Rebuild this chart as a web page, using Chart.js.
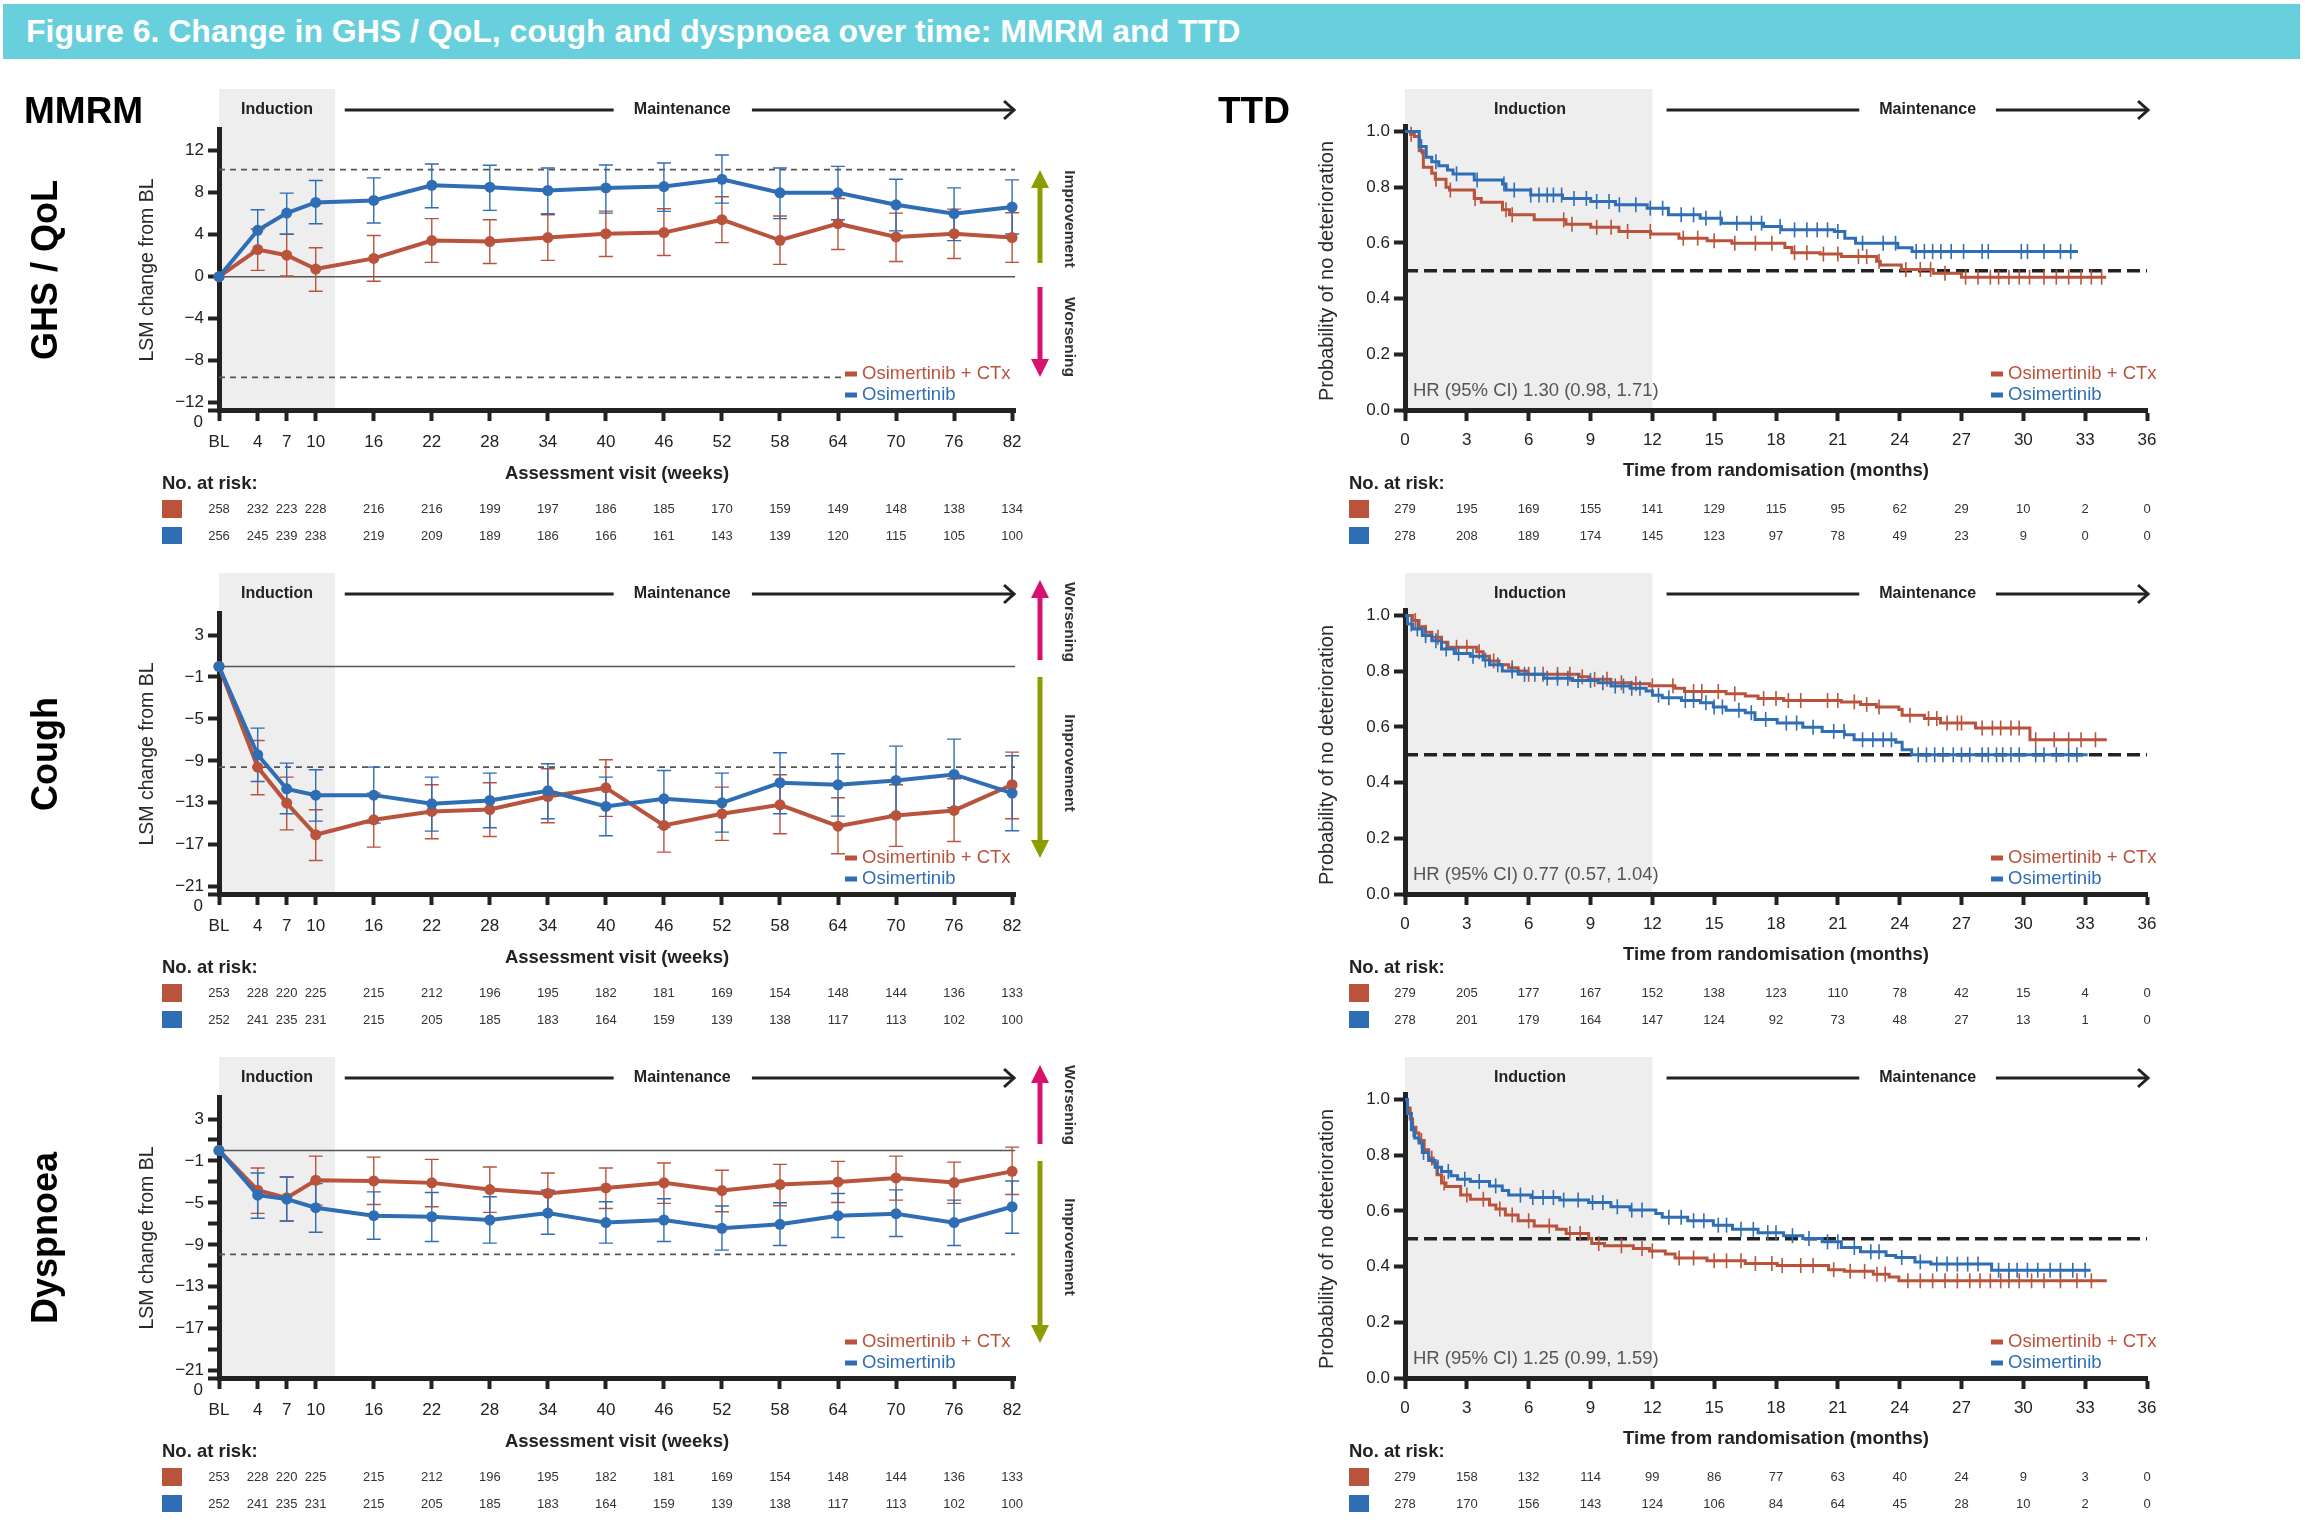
<!DOCTYPE html>
<html>
<head>
<meta charset="utf-8">
<script src="https://cdn.jsdelivr.net/npm/chart.js@4.4.0/dist/chart.umd.min.js"></script>
<style>
body{margin:0;background:#fff;width:2305px;height:1525px;position:relative;overflow:hidden;font-family:"Liberation Sans",Arial,sans-serif}
#hdr{position:absolute;left:3px;top:4px;width:2297px;height:55px;background:#68d0dd;color:#fff;font-weight:bold;font-size:32px;line-height:55px;padding-left:23px;box-sizing:border-box}
canvas{position:absolute}
</style>
</head>
<body>
<div id="hdr">Figure 6. Change in GHS / QoL, cough and dyspnoea over time: MMRM and TTD</div>
<canvas id="m0" width="1120" height="484" style="left:0;top:60px"></canvas>
<canvas id="m1" width="1120" height="484" style="left:0;top:544px"></canvas>
<canvas id="m2" width="1120" height="484" style="left:0;top:1028px"></canvas>
<canvas id="t0" width="1185" height="484" style="left:1120px;top:60px"></canvas>
<canvas id="t1" width="1185" height="484" style="left:1120px;top:544px"></canvas>
<canvas id="t2" width="1185" height="484" style="left:1120px;top:1028px"></canvas>
<script>
const RED = '#b9533b', BLUE = '#2f6db4', INK = '#222';
const OLIVE = '#8d9c00', PINK = '#d6116e';
const FONT = '"Liberation Sans", Arial, sans-serif';
Chart.defaults.font.family = FONT;

// ---- MMRM data (weeks) ----
const weeks = [0,4,7,10,16,22,28,34,40,46,52,58,64,70,76,82];

const ghsOsi   = [0,4.42,6.06,7.07,7.26,8.71,8.53,8.21,8.46,8.59,9.28,7.99,7.99,6.85,6.00,6.63];
const ghsOsiHi = [null,6.38,7.96,9.16,9.41,10.74,10.61,10.36,10.64,10.83,11.59,10.36,10.51,9.28,8.46,9.22];
const ghsOsiLo = [null,2.46,4.04,5.05,5.12,6.57,6.32,6.00,6.06,6.22,7.01,5.53,5.43,4.36,3.44,4.07];
const ghsCtx   = [0,2.59,2.05,0.73,1.74,3.44,3.35,3.73,4.10,4.20,5.43,3.47,5.05,3.79,4.10,3.73];
const ghsCtxHi = [null,4.55,4.04,2.75,3.92,5.53,5.43,5.90,6.25,6.47,7.61,5.78,7.45,6.06,6.44,6.09];
const ghsCtxLo = [null,0.60,0.06,-1.39,-0.44,1.36,1.26,1.55,1.93,2.02,3.25,1.17,2.59,1.45,1.74,1.36];

const coughOsi   = [0,-8.42,-11.67,-12.27,-12.27,-13.10,-12.78,-11.86,-13.35,-12.62,-13.00,-11.09,-11.28,-10.87,-10.30,-12.08];
const coughOsiHi = [null,-5.88,-9.22,-9.85,-9.60,-10.55,-10.17,-9.28,-10.55,-9.92,-10.17,-8.23,-8.33,-7.60,-6.93,-8.52];
const coughOsiLo = [null,-10.97,-14.05,-14.75,-14.94,-15.70,-15.38,-14.53,-16.15,-15.32,-15.80,-14.05,-14.27,-14.11,-13.48,-15.67];
const coughCtx   = [0,-9.60,-13.03,-16.05,-14.62,-13.83,-13.64,-12.40,-11.57,-15.16,-14.05,-13.19,-15.23,-14.21,-13.73,-11.28];
const coughCtxHi = [null,-7.06,-10.55,-13.67,-12.08,-11.28,-11.09,-9.76,-8.90,-12.62,-11.51,-10.33,-12.52,-11.28,-10.71,-8.17];
const coughCtxLo = [null,-12.24,-15.58,-18.50,-17.23,-16.43,-16.21,-14.91,-14.30,-17.71,-16.59,-15.96,-17.86,-17.16,-16.69,-14.53];

const dyspOsi   = [0,-4.26,-4.64,-5.46,-6.22,-6.32,-6.63,-5.97,-6.88,-6.63,-7.42,-7.04,-6.22,-6.03,-6.88,-5.37];
const dyspOsiHi = [null,-2.15,-2.53,-3.16,-3.95,-4.01,-4.42,-3.79,-4.89,-4.61,-5.30,-4.99,-4.10,-3.76,-4.74,-2.91];
const dyspOsiLo = [null,-6.47,-6.73,-7.80,-8.46,-8.68,-8.84,-7.99,-8.84,-8.68,-9.50,-9.06,-8.30,-8.21,-9.06,-7.89];
const dyspCtx   = [0,-3.79,-4.52,-2.84,-2.90,-3.09,-3.73,-4.10,-3.57,-3.09,-3.82,-3.25,-3.00,-2.62,-3.06,-1.99];
const dyspCtxHi = [null,-1.67,-2.53,-0.54,-0.63,-0.85,-1.58,-2.15,-1.67,-1.20,-1.89,-1.33,-1.04,-0.54,-1.11,0.32];
const dyspCtxLo = [null,-6.00,-6.73,-5.21,-5.15,-5.37,-5.90,-6.16,-5.53,-5.05,-5.84,-5.27,-4.96,-4.74,-5.05,-4.20];

const ghsYTicks    = [12,8,4,0,-4,-8,-12,-12.7];
const ghsYLabels   = ['12','8','4','0','\u22124','\u22128','\u221212',''];
const coughYTicks  = [3,-1,-5,-9,-13,-17,-21,-21.7];
const coughYLabels = ['3','\u22121','\u22125','\u22129','\u221213','\u221217','\u221221',''];
const dyspYTicks   = [3,1,-1,-3,-5,-7,-9,-11,-13,-15,-17,-19,-21,-21.7];
const dyspYLabels  = ['3','','\u22121','','\u22125','','\u22129','','\u221213','','\u221217','','\u221221',''];

const ghsRiskCtx   = [258,232,223,228,216,216,199,197,186,185,170,159,149,148,138,134];
const ghsRiskOsi   = [256,245,239,238,219,209,189,186,166,161,143,139,120,115,105,100];
const coughRiskCtx = [253,228,220,225,215,212,196,195,182,181,169,154,148,144,136,133];
const coughRiskOsi = [252,241,235,231,215,205,185,183,164,159,139,138,117,113,102,100];
const dyspRiskCtx  = [253,228,220,225,215,212,196,195,182,181,169,154,148,144,136,133];
const dyspRiskOsi  = [252,241,235,231,215,205,185,183,164,159,139,138,117,113,102,100];

// ---- TTD data (months) ----
const months = [0,3,6,9,12,15,18,21,24,27,30,33,36];
const ttdYTicks = [0,0.2,0.4,0.6,0.8,1.0];

const ghsKmCtxT = [0,0.27,0.45,0.69,0.89,1.30,1.47,1.99,2.16,3.36,3.70,4.73,5.07,6.27,7.81,9.01,10.38,11.92,13.29,14.66,15.86,18.43,18.77,20.14,21.17,22.88,23.06,24.08,25.63,27.00,34.02];
const ghsKmCtxS = [1,0.99,0.982,0.931,0.872,0.850,0.829,0.800,0.790,0.760,0.746,0.719,0.701,0.683,0.667,0.656,0.641,0.632,0.617,0.608,0.599,0.584,0.565,0.560,0.551,0.534,0.521,0.505,0.491,0.477,0.477];
const ghsKmCtxC = [0.3,1.5,2.2,3.4,4.9,5.2,7.7,8.1,9.3,10.0,10.8,11.9,13.5,14.2,15.0,16.0,17.0,17.8,18.9,19.5,20.3,21.0,22.0,22.4,23.0,24.3,25.0,25.5,26.2,27.2,27.8,28.4,28.8,29.3,29.8,30.3,31.0,31.6,32.2,32.8,33.3,33.8];
const ghsKmOsiT = [0,0.69,1.03,1.30,1.64,2.06,2.33,3.36,4.73,4.90,6.10,7.64,9.01,10.21,11.75,12.78,14.32,15.35,17.40,18.26,20.83,21.34,21.86,23.91,24.60,32.65];
const ghsKmOsiS = [1,0.946,0.908,0.892,0.877,0.862,0.848,0.826,0.812,0.790,0.772,0.760,0.749,0.737,0.725,0.701,0.689,0.671,0.659,0.647,0.641,0.617,0.599,0.583,0.569,0.569];
const ghsKmOsiC = [0.8,1.5,2.5,3.5,4.8,5.3,6.1,6.5,6.9,7.2,7.6,8.2,8.8,9.3,9.9,10.4,11.2,11.9,12.5,13.4,14.0,14.6,15.3,16.1,16.8,17.3,18.2,18.9,19.5,20.0,20.5,21.0,22.2,23.2,23.8,24.8,25.2,25.6,26.0,26.5,27.1,28.0,28.3,29.9,30.2,31.0,31.8,32.3];

const coughKmCtxT = [0,0.37,0.68,0.99,1.30,1.77,2.08,3.48,3.79,4.10,4.56,5.03,5.49,5.96,8.44,8.91,9.99,10.92,11.86,13.10,13.56,15.58,16.51,17.13,18.37,21.17,22.10,22.87,23.96,24.12,25.20,25.98,27.68,30.32,34.05];
const coughKmCtxS = [1,0.982,0.960,0.940,0.922,0.904,0.886,0.870,0.854,0.837,0.823,0.813,0.801,0.789,0.780,0.771,0.759,0.755,0.748,0.739,0.727,0.719,0.711,0.702,0.695,0.690,0.681,0.672,0.663,0.642,0.630,0.614,0.596,0.554,0.554];
const coughKmCtxC = [0.5,1.0,1.6,2.5,3.0,3.6,4.3,5.2,6.0,6.7,7.4,8.0,8.6,9.2,9.8,10.5,11.2,12.0,13.0,14.0,14.4,15.2,16.0,17.4,18.0,18.6,19.2,20.5,21.0,21.8,22.4,23.0,24.5,25.4,25.8,26.3,26.8,27.0,28.0,28.5,28.9,29.4,29.8,30.6,31.5,32.2,32.8,33.5];
const coughKmOsiT = [0,0.12,0.37,0.84,1.30,1.77,2.39,3.17,3.79,4.10,4.72,5.49,6.73,8.13,9.37,9.99,10.92,11.70,12.01,12.48,13.41,14.34,14.96,15.58,16.51,16.98,18.06,19.30,20.24,21.32,21.79,23.81,24.12,24.58,33.12];
const coughKmOsiS = [1,0.970,0.952,0.928,0.910,0.880,0.864,0.854,0.840,0.823,0.801,0.789,0.775,0.767,0.759,0.747,0.739,0.729,0.714,0.705,0.695,0.687,0.672,0.660,0.651,0.627,0.614,0.599,0.584,0.572,0.554,0.545,0.518,0.500,0.500];
const coughKmOsiC = [0.3,0.6,1.0,1.5,2.0,2.6,3.3,3.9,4.5,5.2,5.8,6.3,6.9,7.4,7.9,8.4,9.0,9.6,10.2,10.6,11.0,11.4,12.3,12.8,13.6,14.0,14.6,15.0,15.4,16.2,16.8,17.5,18.5,19.0,19.8,20.8,21.3,22.2,22.7,23.2,23.6,24.9,25.3,25.7,26.1,26.6,27.0,27.4,28.0,28.3,28.7,29.0,29.4,29.8,30.6,31.0,31.6,32.2,32.6];

const dyspKmCtxT = [0,0.12,0.25,0.37,0.53,0.68,0.93,1.15,1.37,1.55,1.77,1.99,2.70,3.17,4.10,4.41,4.87,5.49,6.27,7.36,7.82,8.91,9.06,9.68,11.08,11.86,12.63,13.10,14.65,16.51,18.06,20.55,21.32,22.72,23.49,23.96,34.05];
const dyspKmCtxS = [1,0.970,0.930,0.901,0.880,0.853,0.820,0.790,0.772,0.730,0.700,0.688,0.657,0.642,0.621,0.607,0.585,0.565,0.546,0.534,0.519,0.501,0.483,0.475,0.465,0.456,0.445,0.431,0.421,0.411,0.404,0.389,0.383,0.373,0.363,0.349,0.349];
const dyspKmCtxC = [0.3,0.8,1.3,1.9,3.0,3.8,4.6,5.2,6.0,7.0,8.0,8.5,9.4,10.5,11.5,12.0,13.3,14.0,15.0,15.6,16.3,17.0,17.8,18.3,19.2,19.8,20.8,21.6,22.3,22.9,23.3,24.4,25.0,25.6,26.2,26.8,27.4,27.9,28.4,28.9,29.3,29.8,30.4,31.0,31.8,32.6,33.3];
const dyspKmOsiT = [0,0.12,0.31,0.47,0.68,0.84,1.15,1.46,1.77,2.23,2.55,3.17,4.10,4.72,5.03,6.11,7.51,8.91,9.99,10.92,12.17,12.48,13.72,14.96,15.89,17.13,18.37,19.30,20.24,21.17,22.10,23.34,23.81,24.74,25.51,28.46,33.27];
const dyspKmOsiS = [1,0.950,0.892,0.862,0.844,0.810,0.781,0.757,0.742,0.726,0.714,0.706,0.690,0.673,0.657,0.648,0.639,0.630,0.615,0.603,0.591,0.577,0.565,0.549,0.534,0.522,0.511,0.501,0.489,0.469,0.453,0.440,0.433,0.417,0.409,0.387,0.387];
const dyspKmOsiC = [0.4,0.9,1.6,2.1,2.9,3.6,4.4,5.6,6.2,6.7,7.2,7.7,8.4,9.1,9.6,10.3,11.0,11.5,12.8,13.4,14.0,14.5,15.2,15.6,16.3,16.9,17.6,18.0,18.8,19.6,20.5,21.0,21.8,22.6,23.0,24.1,25.0,25.8,26.3,26.8,27.3,27.8,28.8,29.3,29.7,30.2,30.7,31.3,31.8,32.4,33.0];

const ghsTtdRiskCtx   = [279,195,169,155,141,129,115,95,62,29,10,2,0];
const ghsTtdRiskOsi   = [278,208,189,174,145,123,97,78,49,23,9,0,0];
const coughTtdRiskCtx = [279,205,177,167,152,138,123,110,78,42,15,4,0];
const coughTtdRiskOsi = [278,201,179,164,147,124,92,73,48,27,13,1,0];
const dyspTtdRiskCtx  = [279,158,132,114,99,86,77,63,40,24,9,3,0];
const dyspTtdRiskOsi  = [278,170,156,143,124,106,84,64,45,28,10,2,0];

// ---- helpers ----
function txt(c, s, x, y, font, color, align, rot) {
  c.save();
  c.font = font; c.fillStyle = color || INK;
  c.textAlign = align || 'left'; c.textBaseline = 'middle';
  c.translate(x, y);
  if (rot) c.rotate(rot);
  c.fillText(s, 0, 0);
  c.restore();
}
function bigArrow(c, x, yTail, yTip, color) {
  const dir = yTip < yTail ? -1 : 1, head = 18;
  c.save();
  c.strokeStyle = color; c.fillStyle = color; c.lineWidth = 5;
  c.beginPath(); c.moveTo(x, yTail); c.lineTo(x, yTip - dir * head); c.stroke();
  c.beginPath(); c.moveTo(x - 9, yTip - dir * head); c.lineTo(x + 9, yTip - dir * head); c.lineTo(x, yTip); c.closePath(); c.fill();
  c.restore();
}
function phaseHeader(c, xs, shadeTo, lines, labels) {
  const y = 50;
  c.save();
  c.strokeStyle = INK; c.lineWidth = 3;
  lines.forEach((l, i) => {
    const x0 = xs.getPixelForValue(l[0]), x1 = xs.getPixelForValue(l[1]);
    c.beginPath(); c.moveTo(x0, y); c.lineTo(x1, y); c.stroke();
    if (i === lines.length - 1) {
      c.beginPath(); c.moveTo(x1 - 10, y - 9); c.lineTo(x1, y); c.lineTo(x1 - 10, y + 9); c.stroke();
    }
  });
  c.restore();
  txt(c, 'Induction', xs.getPixelForValue(labels[0]), y, 'bold 16px ' + FONT, INK, 'center');
  txt(c, 'Maintenance', xs.getPixelForValue(labels[1]), y, 'bold 16px ' + FONT, INK, 'center');
}
function legendBlock(c, x, y) {
  c.fillStyle = RED; c.fillRect(x, y - 2.5, 12, 5);
  txt(c, 'Osimertinib + CTx', x + 17, y, '18.5px ' + FONT, RED);
  c.fillStyle = BLUE; c.fillRect(x, y + 21 - 2.5, 12, 5);
  txt(c, 'Osimertinib', x + 17, y + 21, '18.5px ' + FONT, BLUE);
}
function riskTable(c, xs, x0, vals, riskCtx, riskOsi, title, titleY) {
  txt(c, title, xs.chart.chartArea.left + (xs.chart.chartArea.right - xs.chart.chartArea.left) / 2, titleY, 'bold 18.5px ' + FONT, INK, 'center');
  txt(c, 'No. at risk:', x0, 424, 'bold 18.5px ' + FONT, INK);
  c.fillStyle = RED; c.fillRect(x0, 440, 20, 18);
  c.fillStyle = BLUE; c.fillRect(x0, 467, 20, 18);
  vals.forEach((v, i) => {
    const x = xs.getPixelForValue(v);
    txt(c, String(riskCtx[i]), x, 449, '13px ' + FONT, '#333', 'center');
    txt(c, String(riskOsi[i]), x, 476, '13px ' + FONT, '#333', 'center');
  });
}
function stepS(T, S, t) {
  let s = S[0];
  for (let i = 0; i < T.length; i++) if (T[i] <= t) s = S[i];
  return s;
}
const axisGrid = {display: true, drawOnChartArea: false, drawTicks: true, tickLength: 11, tickWidth: 4, tickColor: INK};
const axisBorder = {display: true, width: 5, color: INK};

// ---- MMRM panel ----
function mmrmPanel(id, p) {
  const pts = arr => weeks.map((w, i) => ({x: w, y: arr[i]}));
  const plug = {
    id: 'mmrm' + id,
    beforeDraw(ch) {
      const c = ch.ctx, xs = ch.scales.x, a = ch.chartArea;
      c.save(); c.fillStyle = '#eeeeee';
      c.fillRect(xs.getPixelForValue(0), 29, xs.getPixelForValue(12) - xs.getPixelForValue(0), a.bottom - 29);
      c.restore();
    },
    beforeDatasetsDraw(ch) {
      const c = ch.ctx, xs = ch.scales.x, ys = ch.scales.y;
      c.save();
      // baseline at zero
      c.strokeStyle = '#555'; c.lineWidth = 1.5;
      c.beginPath(); c.moveTo(xs.getPixelForValue(0), ys.getPixelForValue(0)); c.lineTo(xs.getPixelForValue(82.3), ys.getPixelForValue(0)); c.stroke();
      // threshold lines
      c.setLineDash([6, 5]); c.strokeStyle = '#555'; c.lineWidth = 1.8;
      p.refs.forEach(r => {
        c.beginPath(); c.moveTo(xs.getPixelForValue(r[1]), ys.getPixelForValue(r[0])); c.lineTo(xs.getPixelForValue(r[2]), ys.getPixelForValue(r[0])); c.stroke();
      });
      c.setLineDash([]);
      // error bars
      [[p.ctxLo, p.ctxHi, RED], [p.osiLo, p.osiHi, BLUE]].forEach(b => {
        c.strokeStyle = b[2]; c.lineWidth = 1.4;
        weeks.forEach((w, i) => {
          if (b[0][i] === null) return;
          const x = xs.getPixelForValue(w), y0 = ys.getPixelForValue(b[0][i]), y1 = ys.getPixelForValue(b[1][i]);
          c.beginPath();
          c.moveTo(x, y0); c.lineTo(x, y1);
          c.moveTo(x - 7, y0); c.lineTo(x + 7, y0);
          c.moveTo(x - 7, y1); c.lineTo(x + 7, y1);
          c.stroke();
        });
      });
      c.restore();
    },
    afterDraw(ch) {
      const c = ch.ctx, xs = ch.scales.x, a = ch.chartArea;
      if (p.head) txt(c, 'MMRM', 24, 53, 'bold 37px ' + FONT, '#000');
      txt(c, p.name, 47, 210, 'bold 36px ' + FONT, '#000', 'center', -Math.PI / 2);
      txt(c, 'LSM change from BL', 148, 210, '19.5px ' + FONT, '#2a2a2a', 'center', -Math.PI / 2);
      txt(c, '0', a.left - 16, a.bottom + 12, '17px ' + FONT, INK, 'right');
      phaseHeader(c, xs, 12, [[13.0, 40.8], [55.1, 82.2]], [6, 47.9]);
      legendBlock(c, 845, 314);
      p.arrows.forEach(ar => {
        bigArrow(c, 1040, ar.tail, ar.tip, ar.color);
        txt(c, ar.label, 1069, ar.mid, 'bold 15.5px ' + FONT, '#333', 'center', Math.PI / 2);
      });
      riskTable(c, xs, 162, weeks, p.riskCtx, p.riskOsi, 'Assessment visit (weeks)', 414);
    }
  };
  new Chart(document.getElementById(id), {
    type: 'line',
    data: {
      datasets: [
        {label: 'Osimertinib', data: pts(p.osi), borderColor: BLUE, backgroundColor: BLUE, borderWidth: 4, pointRadius: 5.5, pointBorderWidth: 0, clip: false},
        {label: 'Osimertinib + CTx', data: pts(p.ctx), borderColor: RED, backgroundColor: RED, borderWidth: 4, pointRadius: 5.5, pointBorderWidth: 0, clip: false}
      ]
    },
    options: {
      responsive: false, animation: false,
      layout: {padding: {top: 69, right: 105, left: 0, bottom: 0}},
      plugins: {legend: {display: false}, tooltip: {enabled: false}},
      scales: {
        x: {
          type: 'linear', min: 0, max: 82.3,
          afterBuildTicks: s => { s.ticks = weeks.map(v => ({value: v})); },
          afterFit: s => { s.height = 134; },
          ticks: {color: INK, font: {size: 17}, padding: 11, autoSkip: false, maxRotation: 0, callback: v => v === 0 ? 'BL' : String(v)},
          grid: axisGrid, border: axisBorder
        },
        y: {
          min: p.yMin, max: p.yMax,
          afterBuildTicks: s => { s.ticks = p.yTicks.map(v => ({value: v})); },
          afterFit: s => { s.width = 219; },
          ticks: {color: INK, font: {size: 17}, padding: 4, autoSkip: false, callback: (v, i) => p.yLabels[i]},
          grid: axisGrid, border: axisBorder
        }
      }
    },
    plugins: [plug]
  });
}

// ---- TTD panel ----
function ttdPanel(id, p) {
  const km = (T, S) => T.map((t, i) => ({x: t, y: S[i]}));
  const cens = (T, S, C) => C.map(t => ({x: t, y: stepS(T, S, t)}));
  const plug = {
    id: 'ttd' + id,
    beforeDraw(ch) {
      const c = ch.ctx, xs = ch.scales.x, a = ch.chartArea;
      c.save(); c.fillStyle = '#eeeeee';
      c.fillRect(xs.getPixelForValue(0), 29, xs.getPixelForValue(12) - xs.getPixelForValue(0), a.bottom - 29);
      c.restore();
    },
    beforeDatasetsDraw(ch) {
      const c = ch.ctx, xs = ch.scales.x, ys = ch.scales.y;
      c.save();
      c.setLineDash([13, 6]); c.strokeStyle = INK; c.lineWidth = 3.5;
      c.beginPath(); c.moveTo(xs.getPixelForValue(0), ys.getPixelForValue(0.5)); c.lineTo(xs.getPixelForValue(36), ys.getPixelForValue(0.5)); c.stroke();
      c.restore();
    },
    afterDraw(ch) {
      const c = ch.ctx, xs = ch.scales.x, a = ch.chartArea;
      if (p.head) txt(c, 'TTD', 98, 53, 'bold 37px ' + FONT, '#000');
      txt(c, 'Probability of no deterioration', 207, 211, '20px ' + FONT, '#2a2a2a', 'center', -Math.PI / 2);
      phaseHeader(c, xs, 12, [[12.69, 22.04], [28.67, 36.05]], [6.07, 25.36]);
      txt(c, p.hr, a.left + 8, 331, '18.5px ' + FONT, '#555');
      legendBlock(c, 871, 314);
      riskTable(c, xs, 229, months, p.riskCtx, p.riskOsi, 'Time from randomisation (months)', 411);
    }
  };
  new Chart(document.getElementById(id), {
    type: 'line',
    data: {
      datasets: [
        {data: km(p.osiT, p.osiS), stepped: true, borderColor: BLUE, borderWidth: 3, pointRadius: 0, clip: false},
        {data: cens(p.osiT, p.osiS, p.osiC), showLine: false, pointStyle: 'line', pointRotation: 90, pointRadius: 7.5, pointBorderWidth: 1.6, pointBorderColor: BLUE, borderColor: BLUE, clip: false},
        {data: km(p.ctxT, p.ctxS), stepped: true, borderColor: RED, borderWidth: 3, pointRadius: 0, clip: false},
        {data: cens(p.ctxT, p.ctxS, p.ctxC), showLine: false, pointStyle: 'line', pointRotation: 90, pointRadius: 7.5, pointBorderWidth: 1.6, pointBorderColor: RED, borderColor: RED, clip: false}
      ]
    },
    options: {
      responsive: false, animation: false,
      layout: {padding: {top: 66, right: 158, left: 0, bottom: 0}},
      plugins: {legend: {display: false}, tooltip: {enabled: false}},
      scales: {
        x: {
          type: 'linear', min: 0, max: 36,
          afterBuildTicks: s => { s.ticks = months.map(v => ({value: v})); },
          afterFit: s => { s.height = 134; },
          ticks: {color: INK, font: {size: 17}, padding: 9, autoSkip: false, maxRotation: 0, callback: v => String(v)},
          grid: axisGrid, border: axisBorder
        },
        y: {
          min: 0, max: 1.02,
          afterBuildTicks: s => { s.ticks = ttdYTicks.map(v => ({value: v})); },
          afterFit: s => { s.width = 285; },
          ticks: {color: INK, font: {size: 17}, padding: 4, autoSkip: false, callback: v => v.toFixed(1)},
          grid: axisGrid, border: axisBorder
        }
      }
    },
    plugins: [plug]
  });
}

mmrmPanel('m0', {head: true, name: 'GHS / QoL', osi: ghsOsi, osiLo: ghsOsiLo, osiHi: ghsOsiHi, ctx: ghsCtx, ctxLo: ghsCtxLo, ctxHi: ghsCtxHi,
  yMin: -12.7, yMax: 14.07, yTicks: ghsYTicks, yLabels: ghsYLabels, refs: [[10.2, 0, 82.3], [-9.6, 0, 64.7]],
  arrows: [{tail: 203, tip: 110, color: OLIVE, label: 'Improvement', mid: 159}, {tail: 227, tip: 317, color: PINK, label: 'Worsening', mid: 277}],
  riskCtx: ghsRiskCtx, riskOsi: ghsRiskOsi});
mmrmPanel('m1', {head: false, name: 'Cough', osi: coughOsi, osiLo: coughOsiLo, osiHi: coughOsiHi, ctx: coughCtx, ctxLo: coughCtxLo, ctxHi: coughCtxHi,
  yMin: -21.7, yMax: 5.1, yTicks: coughYTicks, yLabels: coughYLabels, refs: [[-9.6, 0, 82.3]],
  arrows: [{tail: 116, tip: 36, color: PINK, label: 'Worsening', mid: 78}, {tail: 133, tip: 314, color: OLIVE, label: 'Improvement', mid: 219}],
  riskCtx: coughRiskCtx, riskOsi: coughRiskOsi});
mmrmPanel('m2', {head: false, name: 'Dyspnoea', osi: dyspOsi, osiLo: dyspOsiLo, osiHi: dyspOsiHi, ctx: dyspCtx, ctxLo: dyspCtxLo, ctxHi: dyspCtxHi,
  yMin: -21.7, yMax: 5.1, yTicks: dyspYTicks, yLabels: dyspYLabels, refs: [[-9.9, 0, 82.3]],
  arrows: [{tail: 116, tip: 37, color: PINK, label: 'Worsening', mid: 77}, {tail: 133, tip: 315, color: OLIVE, label: 'Improvement', mid: 219}],
  riskCtx: dyspRiskCtx, riskOsi: dyspRiskOsi});

ttdPanel('t0', {head: true, hr: 'HR (95% CI) 1.30 (0.98, 1.71)', ctxT: ghsKmCtxT, ctxS: ghsKmCtxS, ctxC: ghsKmCtxC, osiT: ghsKmOsiT, osiS: ghsKmOsiS, osiC: ghsKmOsiC, riskCtx: ghsTtdRiskCtx, riskOsi: ghsTtdRiskOsi});
ttdPanel('t1', {head: false, hr: 'HR (95% CI) 0.77 (0.57, 1.04)', ctxT: coughKmCtxT, ctxS: coughKmCtxS, ctxC: coughKmCtxC, osiT: coughKmOsiT, osiS: coughKmOsiS, osiC: coughKmOsiC, riskCtx: coughTtdRiskCtx, riskOsi: coughTtdRiskOsi});
ttdPanel('t2', {head: false, hr: 'HR (95% CI) 1.25 (0.99, 1.59)', ctxT: dyspKmCtxT, ctxS: dyspKmCtxS, ctxC: dyspKmCtxC, osiT: dyspKmOsiT, osiS: dyspKmOsiS, osiC: dyspKmOsiC, riskCtx: dyspTtdRiskCtx, riskOsi: dyspTtdRiskOsi});
</script>
</body>
</html>
